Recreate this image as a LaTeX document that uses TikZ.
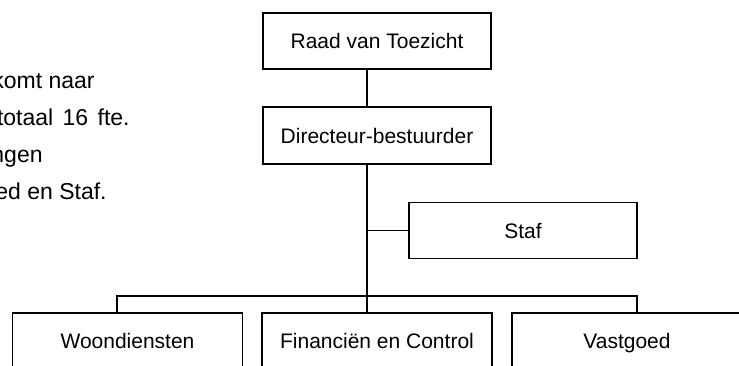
\documentclass[tikz,border=0pt]{standalone}
\usepackage{fontspec}
\setmainfont{Liberation Sans}
\begin{document}
\begin{tikzpicture}[x=0.5pt,y=-0.5pt,
  every node/.style={font=\fontsize{10.5}{12.6}\selectfont, text=black},
  orgbox/.style={draw=black, line width=0.85pt, rectangle, inner sep=0pt,
    minimum width=114pt, minimum height=28pt, text height=7.5pt, text depth=0pt},
  lowbox/.style={orgbox, minimum width=115pt},
  spine/.style={draw=black, line width=0.85pt},
  thinline/.style={draw=black, line width=0.7pt},
  bodytext/.style={inner sep=0pt, anchor=base east, font=\fontsize{11.5}{13.8}\selectfont}]
\clip (0,0) rectangle (739,365);
% org chart boxes
\node[orgbox] (raad) at (377,41) {Raad van Toezicht};
\node[orgbox, minimum height=28.5pt] (dir) at (377,135.5) {Directeur-bestuurder};
\node[orgbox] (staf) at (523,230.5) {Staf};
\node[lowbox] (woon) at (127.5,341) {Woondiensten};
\node[lowbox] (fin) at (377,341) {Financiën en Control};
\node[lowbox] (vast) at (627,341) {Vastgoed};
% connector helpers
\coordinate (sp) at (367,0);
\coordinate (busL) at (117,296);
\coordinate (busR) at (637,296);
% connectors
\draw[spine] (raad.south -| sp) -- (dir.north -| sp);
\draw[spine] (dir.south -| sp) -- (fin.north -| sp);
\draw[thinline] (staf.west -| sp) -- (staf.west);
\draw[thinline] (woon.north -| busL) -- (busL) -- (busR) -- (vast.north -| busR);
% clipped paragraph text at the left
\node[bodytext] (t1) at (95,88) {komt naar};
\node[bodytext] (t2) at (130,125) {totaal\hspace{1.5pt} 16\hspace{1.5pt} fte.};
\node[bodytext] (t3) at (43,162) {ngen};
\node[bodytext] (t4) at (107,199) {ed en Staf.};
\end{tikzpicture}
\end{document}
